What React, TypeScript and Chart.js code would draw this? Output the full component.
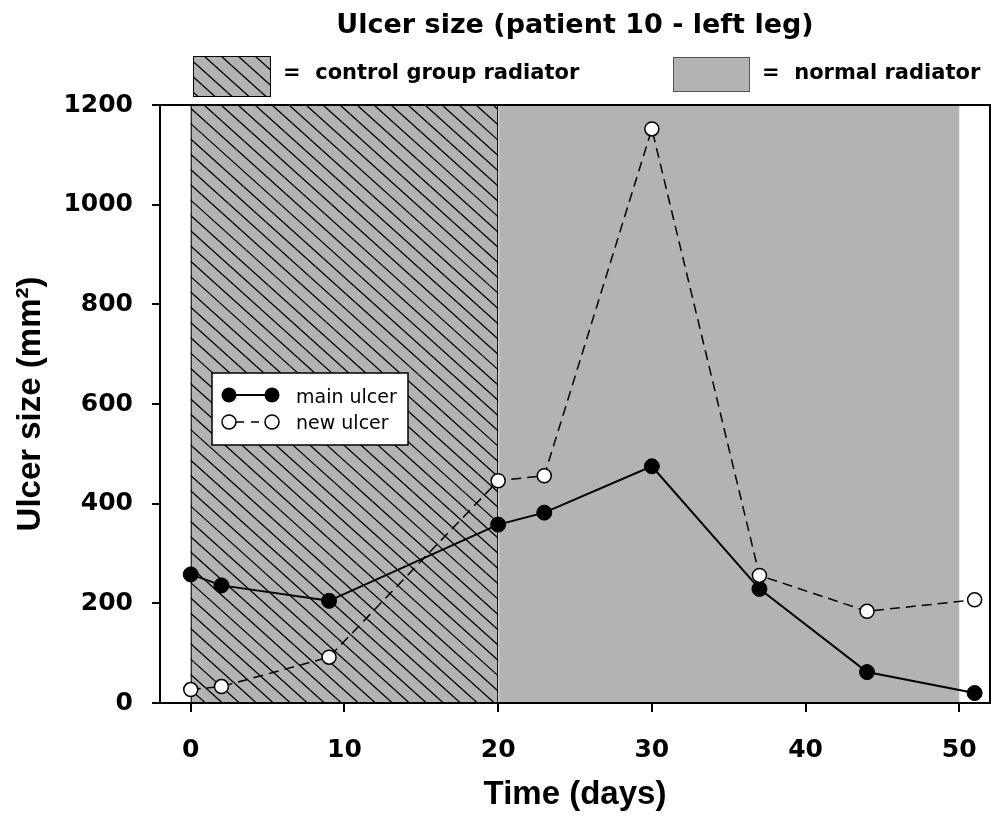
import React, { useEffect, useRef } from 'react';
import { Chart, registerables } from 'chart.js';

Chart.register(...registerables);

// ---- data ----
const days = [0, 2, 9, 20, 23, 30, 37, 44, 51];
const mainUlcer = [258, 236, 205, 358, 382, 475, 229, 62, 20];
const newUlcer = [27, 33, 92, 446, 456, 1152, 256, 184, 207];
const controlPhase = [0, 20];
const normalPhase = [20, 50];
const xTickValues = [0, 10, 20, 30, 40, 50];
const yTickValues = [0, 200, 400, 600, 800, 1000, 1200];

const TITLE = 'Ulcer size (patient 10 - left leg)';
const X_TITLE = 'Time (days)';
const Y_TITLE = 'Ulcer size (mm\u00B2)';
const LEGEND_CONTROL = '=  control group radiator';
const LEGEND_NORMAL = '=  normal radiator';
const LEGEND_MAIN = 'main ulcer';
const LEGEND_NEW = 'new ulcer';

const GRAY = '#b3b3b3';
const DV = '"DejaVu Sans", sans-serif';
const AR = '"Liberation Sans", Arial, sans-serif';

function hatchRect(ctx: CanvasRenderingContext2D, x: number, y: number, w: number, h: number) {
  ctx.save();
  ctx.fillStyle = GRAY;
  ctx.fillRect(x, y, w, h);
  ctx.beginPath();
  ctx.rect(x, y, w, h);
  ctx.clip();
  ctx.strokeStyle = '#000';
  ctx.lineWidth = 1.3;
  const slope = 0.9;
  const sp = 17;
  const run = h / slope;
  ctx.beginPath();
  for (let c = Math.floor((x - run) / sp) * sp; c < x + w + sp; c += sp) {
    ctx.moveTo(c, y);
    ctx.lineTo(c + run, y + h);
  }
  ctx.stroke();
  ctx.restore();
  ctx.save();
  ctx.strokeStyle = '#000';
  ctx.lineWidth = 1;
  ctx.strokeRect(x + 0.5, y + 0.5, w - 1, h - 1);
  ctx.restore();
}

const decor = {
  id: 'decor',
  beforeDraw(chart: any) {
    const ctx = chart.ctx as CanvasRenderingContext2D;
    ctx.save();
    ctx.fillStyle = '#fff';
    ctx.fillRect(0, 0, chart.width, chart.height);
    ctx.restore();
  },
  beforeDatasetsDraw(chart: any) {
    const ctx = chart.ctx as CanvasRenderingContext2D;
    const { top, bottom } = chart.chartArea;
    const x = chart.scales.x;
    const n0 = x.getPixelForValue(normalPhase[0]);
    const n1 = x.getPixelForValue(normalPhase[1]);
    ctx.save();
    ctx.fillStyle = GRAY;
    ctx.fillRect(n0 + 1, top, n1 - n0 - 1, bottom - top);
    ctx.restore();
    const c0 = x.getPixelForValue(controlPhase[0]);
    const c1 = x.getPixelForValue(controlPhase[1]);
    hatchRect(ctx, c0, top, c1 - c0, bottom - top);
  },
  afterDatasetsDraw(chart: any) {
    const ctx = chart.ctx as CanvasRenderingContext2D;
    const { left, right, top, bottom } = chart.chartArea;
    ctx.save();
    ctx.strokeStyle = '#000';
    ctx.lineWidth = 2;
    ctx.strokeRect(left, top, right - left, bottom - top);

    // inner legend
    ctx.fillStyle = '#fff';
    ctx.fillRect(212, 373, 196, 72);
    ctx.lineWidth = 1.5;
    ctx.strokeRect(212, 373, 196, 72);
    // main ulcer row
    ctx.lineWidth = 2;
    ctx.beginPath();
    ctx.moveTo(229, 395);
    ctx.lineTo(272, 395);
    ctx.stroke();
    ctx.fillStyle = '#000';
    for (const cx of [229, 272]) {
      ctx.beginPath();
      ctx.arc(cx, 395, 7.5, 0, Math.PI * 2);
      ctx.fill();
    }
    // new ulcer row
    ctx.lineWidth = 1.5;
    ctx.setLineDash([8, 7]);
    ctx.beginPath();
    ctx.moveTo(236, 422);
    ctx.lineTo(266, 422);
    ctx.stroke();
    ctx.setLineDash([]);
    for (const cx of [229, 272]) {
      ctx.beginPath();
      ctx.arc(cx, 422, 7, 0, Math.PI * 2);
      ctx.fillStyle = '#fff';
      ctx.fill();
      ctx.stroke();
    }
    ctx.fillStyle = '#000';
    ctx.font = `19px ${DV}`;
    ctx.textAlign = 'left';
    ctx.textBaseline = 'alphabetic';
    ctx.fillText(LEGEND_MAIN, 296, 403);
    ctx.fillText(LEGEND_NEW, 296, 429);
    ctx.restore();
  },
  afterDraw(chart: any) {
    const ctx = chart.ctx as CanvasRenderingContext2D;
    const { left, right } = chart.chartArea;
    ctx.save();
    ctx.fillStyle = '#000';
    ctx.textBaseline = 'alphabetic';
    ctx.textAlign = 'center';
    ctx.font = `bold 27px ${DV}`;
    ctx.fillText(TITLE, (left + right) / 2, 33);

    // top legend
    hatchRect(ctx, 193, 56, 78, 41);
    ctx.fillStyle = GRAY;
    ctx.fillRect(673, 57, 77, 35);
    ctx.strokeStyle = '#555';
    ctx.lineWidth = 1;
    ctx.strokeRect(673.5, 57.5, 76, 34);
    ctx.fillStyle = '#000';
    ctx.textAlign = 'left';
    ctx.font = `bold 21px ${DV}`;
    ctx.fillText(LEGEND_CONTROL, 283, 79);
    ctx.fillText(LEGEND_NORMAL, 762, 79);
    ctx.restore();
  },
};

export default function App() {
  const ref = useRef<HTMLCanvasElement | null>(null);
  useEffect(() => {
    if (!ref.current) return;
    const chart = new Chart(ref.current, {
      type: 'line',
      data: {
        datasets: [
          {
            label: LEGEND_NEW,
            data: days.map((d, i) => ({ x: d, y: newUlcer[i] })),
            borderColor: '#000',
            borderWidth: 1.5,
            borderDash: [10, 6],
            pointRadius: 7,
            pointBackgroundColor: '#fff',
            pointBorderColor: '#000',
            pointBorderWidth: 1.5,
            tension: 0,
            fill: false,
          },
          {
            label: LEGEND_MAIN,
            data: days.map((d, i) => ({ x: d, y: mainUlcer[i] })),
            borderColor: '#000',
            borderWidth: 2,
            pointRadius: 7.5,
            pointBackgroundColor: '#000',
            pointBorderColor: '#000',
            pointBorderWidth: 1,
            tension: 0,
            fill: false,
          },
        ],
      },
      options: {
        responsive: false,
        devicePixelRatio: 1,
        animation: false,
        layout: { autoPadding: false, padding: { top: 105, right: 3, bottom: 0, left: 0 } },
        plugins: {
          legend: { display: false },
          tooltip: { enabled: false },
          title: { display: false },
        },
        scales: {
          x: {
            type: 'linear',
            min: -2,
            max: 52,
            afterBuildTicks: (s: any) => {
              s.ticks = xTickValues.map((v) => ({ value: v }));
            },
            afterFit: (s: any) => {
              s.height = 117;
              s.paddingLeft = 0;
              s.paddingRight = 0;
            },
            grid: {
              display: true,
              drawOnChartArea: false,
              drawTicks: true,
              tickLength: 9,
              color: '#000',
              lineWidth: 2,
            },
            border: { display: true, color: '#000', width: 2 },
            ticks: {
              color: '#000',
              padding: 23,
              font: { family: DV, size: 25, weight: 'bold' },
              callback: (v: any) => String(v),
            },
            title: {
              display: true,
              text: X_TITLE,
              color: '#000',
              font: { family: AR, size: 33, weight: 'bold' },
              padding: { top: 0, bottom: 5 },
            },
          },
          y: {
            type: 'linear',
            min: 0,
            max: 1200,
            afterBuildTicks: (s: any) => {
              s.ticks = yTickValues.map((v) => ({ value: v }));
            },
            afterFit: (s: any) => {
              s.width = 160;
            },
            grid: {
              display: true,
              drawOnChartArea: false,
              drawTicks: true,
              tickLength: 8,
              color: '#000',
              lineWidth: 2,
            },
            border: { display: true, color: '#000', width: 2 },
            ticks: {
              color: '#000',
              padding: 19,
              font: { family: DV, size: 25, weight: 'bold' },
              callback: (v: any) => String(v),
            },
            title: {
              display: true,
              text: Y_TITLE,
              color: '#000',
              font: { family: AR, size: 33, weight: 'bold' },
              padding: { top: 11, bottom: 0 },
            },
          },
        },
      } as any,
      plugins: [decor],
    });
    return () => chart.destroy();
  }, []);
  return (
    <div style={{ position: 'fixed', left: 0, top: 0, width: 993, height: 820, background: '#fff' }}>
      <canvas ref={ref} width={993} height={820} style={{ display: 'block' }} />
    </div>
  );
}
